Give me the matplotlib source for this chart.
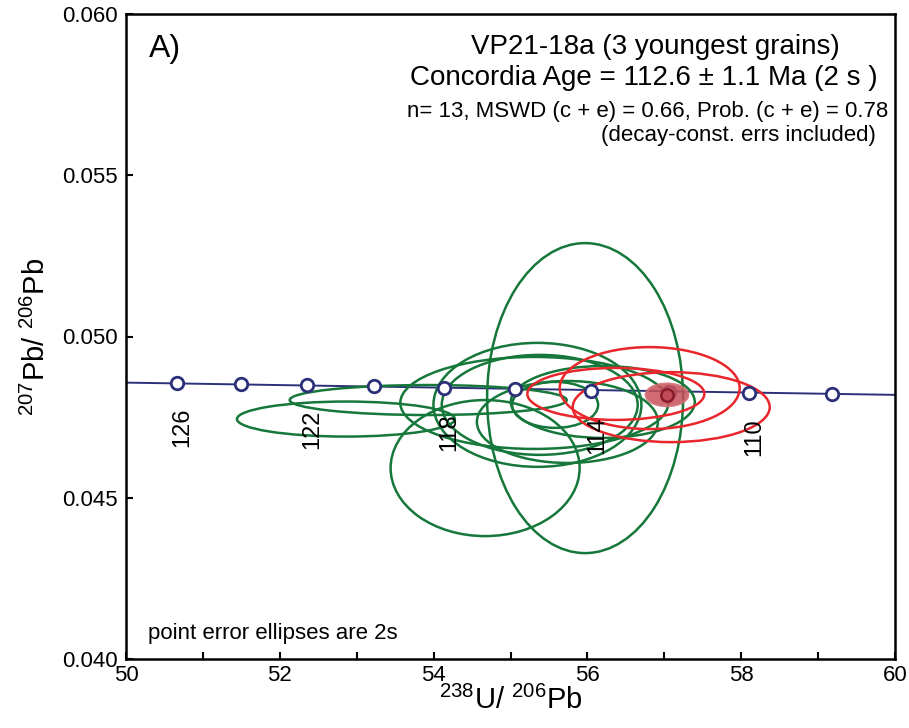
import numpy as np
import matplotlib
matplotlib.use("Agg")
import matplotlib.pyplot as plt
from matplotlib.patches import Ellipse

plt.rcParams['font.family'] = ['Liberation Sans', 'DejaVu Sans']
plt.rcParams['mathtext.fontset'] = 'custom'
plt.rcParams['mathtext.rm'] = 'Liberation Sans'

# concordia curve
conc_x = [50.0, 60.0]
conc_y = [0.04857, 0.04819]

# age marks along concordia (Ma)
mark_age = [126, 124, 122, 120, 118, 116, 114, 112, 110, 108]
mark_x = [50.66, 51.50, 52.35, 53.22, 54.13, 55.06, 56.05, 57.06, 58.10, 59.18]
mark_y = [0.04856, 0.04853, 0.04850, 0.04847, 0.04840, 0.04837, 0.04831, 0.04828, 0.04825, 0.04822]
label_ages = [126, 122, 118, 114, 110]

# analyses: centre x, centre y, half-width x, half-height y
green_x = [55.97, 54.67, 52.86, 53.93, 55.35, 55.31, 56.20, 55.74, 55.58, 55.38]
green_y = [0.04809, 0.04592, 0.04744, 0.04803, 0.04788, 0.04794, 0.04797, 0.04735, 0.04788, 0.04788]
green_a = [1.274, 1.229, 1.417, 1.801, 1.352, 1.743, 1.196, 1.177, 0.559, 1.274]
green_b = [0.004806, 0.002109, 0.000543, 0.000465, 0.001922, 0.001426, 0.001116, 0.001271, 0.000713, 0.00155]

red_x = [56.37, 56.81, 57.09]
red_y = [0.04822, 0.04840, 0.04781]
red_a = [1.151, 1.170, 1.281]
red_b = [0.000806, 0.001271, 0.001085]

# concordia age ellipse
age_x, age_y, age_a, age_b = 57.035, 0.04819, 0.273, 0.000341

fig = plt.figure(figsize=(9.09, 7.28), dpi=100)
ax = fig.add_axes([126 / 909, 1 - 659 / 728, 769 / 909, 645 / 728])

for x, y, a, b in zip(green_x, green_y, green_a, green_b):
    ax.add_patch(Ellipse((x, y), 2 * a, 2 * b, fill=False, edgecolor='#16773a', lw=1.8, zorder=3))
for x, y, a, b in zip(red_x, red_y, red_a, red_b):
    ax.add_patch(Ellipse((x, y), 2 * a, 2 * b, fill=False, edgecolor='#e8262b', lw=1.8, zorder=3))

ax.plot(conc_x, conc_y, color='#2b3078', lw=1.4, zorder=2)
ax.plot(mark_x, mark_y, 'o', ls='none', ms=9, mfc='white', mec='#2b3078', mew=2, zorder=4)

for age, x, y in zip(mark_age, mark_x, mark_y):
    if age in label_ages:
        ax.annotate(str(age), (x, y), xytext=(4, -32), textcoords='offset points',
                    rotation=90, ha='center', va='center', fontsize=17)

ax.add_patch(Ellipse((age_x, age_y), 2 * age_a, 2 * age_b, facecolor='#c8505a',
                     edgecolor='#d06a72', lw=2, alpha=0.85, zorder=5))
ax.plot([age_x], [age_y], 'o', ms=9, mfc='#c04a55', mec='#8b1a2b', mew=1.8, zorder=6)

ax.set_xlim(50, 60)
ax.set_ylim(0.040, 0.060)
ax.set_xticks(np.arange(50, 61, 2))
ax.set_xticks(np.arange(51, 60, 2), minor=True)
ax.set_yticks([0.040, 0.045, 0.050, 0.055, 0.060])
ax.set_yticklabels(['0.040', '0.045', '0.050', '0.055', '0.060'])
ax.tick_params(direction='in', length=5, width=1.5)
ax.tick_params(axis='x', labelsize=16, pad=4)
ax.tick_params(axis='y', labelsize=16, pad=6)
ax.tick_params(which='minor', direction='in', length=5, width=1.5)
for s in ax.spines.values():
    s.set_linewidth(1.8)

ax.set_xlabel(r'$^{238}$U/ $^{206}$Pb', fontsize=21, labelpad=0)
ax.set_ylabel(r'$^{207}$Pb/ $^{206}$Pb', fontsize=21, labelpad=8)

ax.text(0.03, 0.945, 'A)', transform=ax.transAxes, fontsize=23, va='center', ha='left')
ax.text((840 - 126) / 769, 1 - (47 - 14) / 645, 'VP21-18a (3 youngest grains)',
        transform=ax.transAxes, fontsize=20, ha='right', va='center')
ax.text((878 - 126) / 769, 1 - (78 - 14) / 645, 'Concordia Age = 112.6 ± 1.1 Ma (2 s )',
        transform=ax.transAxes, fontsize=20, ha='right', va='center')
ax.text((888 - 126) / 769, 1 - (111 - 14) / 645, 'n= 13, MSWD (c + e) = 0.66, Prob. (c + e) = 0.78',
        transform=ax.transAxes, fontsize=16, ha='right', va='center')
ax.text((876 - 126) / 769, 1 - (136 - 14) / 645, '(decay-const. errs included)',
        transform=ax.transAxes, fontsize=16, ha='right', va='center')
ax.text((148 - 126) / 769, 1 - (634 - 14) / 645, 'point error ellipses are 2s',
        transform=ax.transAxes, fontsize=16, ha='left', va='center')

fig.savefig('out.png', dpi=100)
